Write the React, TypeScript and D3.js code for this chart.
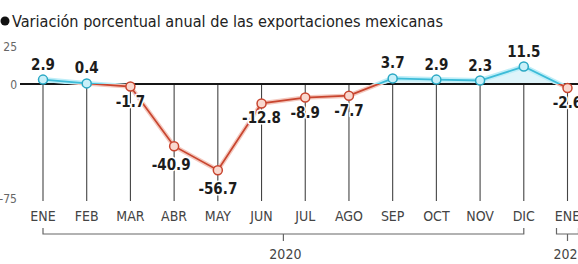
import React from 'react';
import * as d3 from 'd3';

const months = ['ENE', 'FEB', 'MAR', 'ABR', 'MAY', 'JUN', 'JUL', 'AGO', 'SEP', 'OCT', 'NOV', 'DIC', 'ENE'];
const values = [2.9, 0.4, -1.7, -40.9, -56.7, -12.8, -8.9, -7.7, 3.7, 2.9, 2.3, 11.5, -2.6];
const valueLabels = ['2.9', '0.4', '-1.7', '-40.9', '-56.7', '-12.8', '-8.9', '-7.7', '3.7', '2.9', '2.3', '11.5', '-2.6'];
const yTicks = [25, 0, -75];
const years = [
  { label: '2020', from: 0, to: 11 },
  { label: '2021', from: 12, to: 12 },
];
const title = 'Variación porcentual anual de las exportaciones mexicanas';

const W = 578;
const H = 264;
const FONT = "'DejaVu Sans Condensed', 'DejaVu Sans', sans-serif";
const BLUE = '#3dbcd8';
const RED = '#c8452f';

const App = () => {
  const idx = months.map((_, i) => i);
  const x = d3.scalePoint<number>().domain(idx).range([43, 567.5]);
  const y = d3.scaleLinear().domain([-75, 25]).range([198, 46]);
  const y0 = y(0);
  const bottom = 201;

  const line = d3.line<number>().x((_, i) => x(i)!).y(v => y(v));
  const area = d3.area<number>().x((_, i) => x(i)!).y0(y0).y1(v => y(v));
  const d = line(values) || '';

  return (
    <svg width={W} height={H} style={{ position: 'absolute', left: 0, top: 0, background: '#fff' }} fontFamily={FONT}>
      <defs>
        <clipPath id="above"><rect x={0} y={0} width={W} height={y0} /></clipPath>
        <clipPath id="below"><rect x={0} y={y0} width={W} height={H - y0} /></clipPath>
      </defs>

      {/* title */}
      <circle cx={5} cy={21} r={4.5} fill="#111" />
      <text x={12} y={27} fontSize={16.5} fill="#222" textLength={431} lengthAdjust="spacingAndGlyphs">{title}</text>

      {/* y tick labels */}
      {yTicks.map(t => (
        <text key={t} x={17} y={y(t) + 5} fontSize={12} fill="#666" textAnchor="end">{t}</text>
      ))}

      {/* vertical drop lines */}
      {values.map((v, i) => (
        <line key={'v' + i} x1={x(i)} x2={x(i)} y1={Math.min(y(v), y0)} y2={bottom} stroke="#444" strokeWidth={1.1} />
      ))}

      {/* positive area */}
      <path d={area(values) || ''} fill="#dff4fa" clipPath="url(#above)" />

      {/* zero line */}
      <line x1={20} x2={W} y1={y0} y2={y0} stroke="#151515" strokeWidth={2.2} />

      {/* series line, colored by sign */}
      <g clipPath="url(#above)">
        <path d={d} fill="none" stroke="#bfeef8" strokeWidth={5} />
        <path d={d} fill="none" stroke={BLUE} strokeWidth={1.8} />
      </g>
      <g clipPath="url(#below)">
        <path d={d} fill="none" stroke="#f4c9bf" strokeWidth={4.5} />
        <path d={d} fill="none" stroke={RED} strokeWidth={1.8} />
      </g>

      {values.map((v, i) => (
        <circle key={'m' + i} cx={x(i)} cy={y(v)} r={4.5}
          fill={v >= 0 ? '#c9f0f9' : '#f9d8cf'} stroke={v >= 0 ? '#2aa8c4' : RED} strokeWidth={1.5} />
      ))}

      {/* value labels */}
      {values.map((v, i) => {
        const deep = v < -30;
        const ly = v >= 0 ? y(v) - 10 : y(v) + (deep ? 24 : 20);
        const lx = x(i)! + (i === 3 ? -3 : 0);
        return (
          <text key={'l' + i} x={lx} y={ly} fontSize={15} fontWeight="bold" fill="#1c1c1c" textAnchor="middle"
            stroke="#fff" strokeWidth={3} paintOrder="stroke" strokeLinejoin="round">{valueLabels[i]}</text>
        );
      })}

      {/* month labels */}
      {months.map((m, i) => (
        <text key={'x' + i} x={x(i)} y={221} fontSize={14} fill="#444" textAnchor="middle">{m}</text>
      ))}

      {/* year brackets */}
      {years.map(yr => {
        const a = yr.from === yr.to ? x(yr.from)! - 11 : x(yr.from)!;
        const b = yr.from === yr.to ? x(yr.from)! + 11 : x(yr.to)!;
        const c = (a + b) / 2;
        return (
          <g key={yr.label}>
            <path d={`M${a},228V234H${b}V228M${c},234V241`} fill="none" stroke="#666" strokeWidth={1.2} />
            <text x={c + 2} y={259} fontSize={14} fill="#444" textAnchor="middle">{yr.label}</text>
          </g>
        );
      })}
    </svg>
  );
};

export default App;
